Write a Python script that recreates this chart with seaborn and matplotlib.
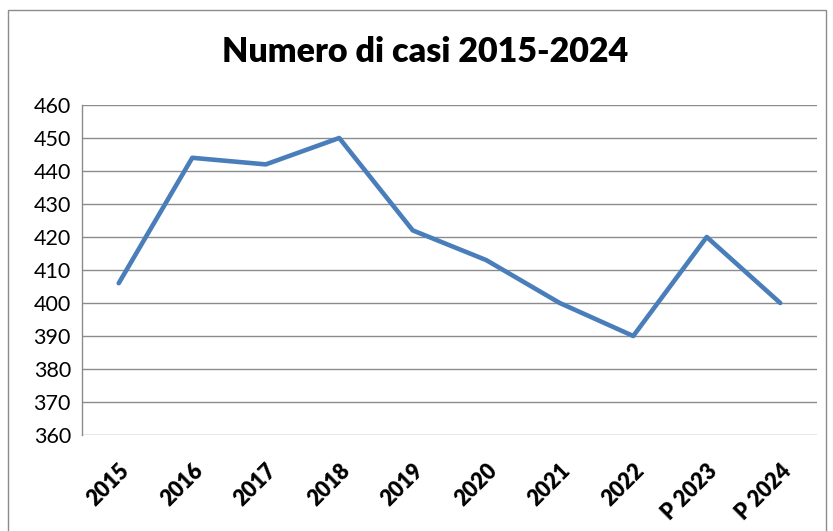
import pandas as pd
import matplotlib.pyplot as plt
import matplotlib.patches as patches
import seaborn as sns

# data
anni = ['2015', '2016', '2017', '2018', '2019', '2020', '2021', '2022', 'P 2023', 'P 2024']
casi = [406, 444, 442, 450, 422, 413, 400, 390, 420, 400]
yticks = [360, 370, 380, 390, 400, 410, 420, 430, 440, 450, 460]

df = pd.DataFrame({'anno': anni, 'casi': casi})

sns.set_style('white')
plt.rcParams['font.family'] = ['Lato', 'DejaVu Sans']

fig = plt.figure(figsize=(8.33, 5.31), dpi=100)
ax = fig.add_axes([82/833, 1 - 435/531, (817 - 82)/833, (435 - 105)/531])

sns.lineplot(data=df, x='anno', y='casi', ax=ax, color='#4a7ebb', linewidth=3.3, sort=False)

ax.set_xlim(-0.5, len(anni) - 0.5)
ax.set_ylim(360, 460)
ax.set_yticks(yticks)
ax.set_yticklabels([str(v) for v in yticks], fontsize=15.5, color='black')
ax.set_xticks(range(len(anni)))
ax.set_xticklabels(anni, rotation=45, ha='right', rotation_mode='anchor', fontsize=15.5,
                   fontweight='heavy', color='black')
ax.tick_params(axis='y', length=0, pad=8)
ax.tick_params(axis='x', length=0, pad=18)
ax.set_xlabel('')
ax.set_ylabel('')

# gridlines like excel
for v in yticks:
    ax.axhline(v, color='#8c8c8c', linewidth=1, zorder=0)

for s in ['top', 'right', 'bottom']:
    ax.spines[s].set_visible(False)
ax.spines['left'].set_color('#8c8c8c')
ax.spines['left'].set_linewidth(1)

fig.suptitle('Numero di casi 2015-2024', x=425/833, y=1 - 52/531, va='center',
             fontsize=24.5, fontweight='heavy', color='black')

# outer chart border
border = patches.Rectangle((8/833, -0.05), (826 - 8)/833, 1.05 - 10/531, transform=fig.transFigure,
                           fill=False, edgecolor='#8c8c8c', linewidth=1, clip_on=False)
fig.patches.append(border)

fig.savefig('out.png', dpi=100)
